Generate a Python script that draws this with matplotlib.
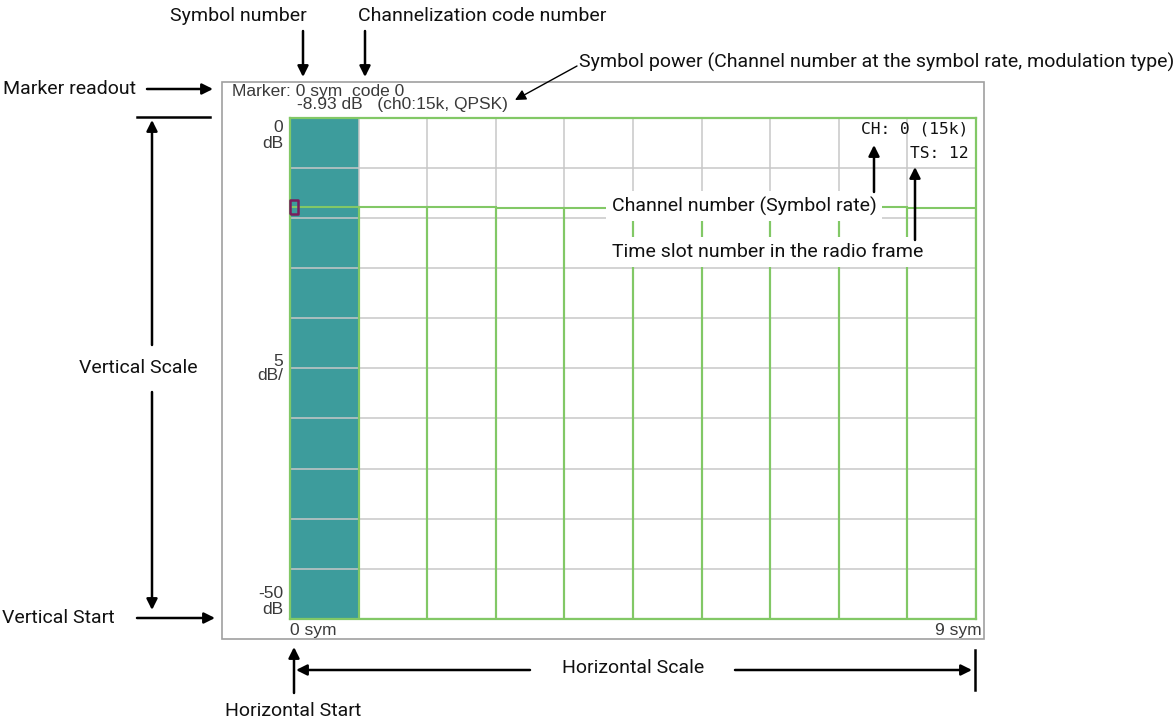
import matplotlib
matplotlib.use('Agg')
import matplotlib.pyplot as plt
from matplotlib.patches import Rectangle

# Messwerte (Symbol-Leistung je Symbol, dB)
symbols = [0, 1, 2, 3, 4, 5, 6, 7, 8, 9]
power_db = [-8.93, -8.93, -8.93, -9.05, -9.05, -9.0, -8.95, -9.0, -8.9, -9.05]
marker_sym = 0
marker_db = -8.93
y_start = -50
y_stop = 0
y_div = 5
x_ticks = list(range(11))

W, H = 1176, 723
GREEN = '#82c866'
GRID = '#c8c8c8'
TEAL = '#3d9c9c'
INSTR = '#3a3a3a'
ANN_FONT = ['Roboto', 'Liberation Sans', 'DejaVu Sans']
ANN_SIZE = 14
INSTR_FONT = ['Liberation Sans', 'DejaVu Sans']

fig = plt.figure(figsize=(W / 100, H / 100), dpi=100, facecolor='white')

# Plotbereich in Pixeln (links, oben, rechts, unten)
px_l, px_t, px_r, px_b = 290, 117.7, 976, 619
ax = fig.add_axes([px_l / W, 1 - px_b / H, (px_r - px_l) / W, (px_b - px_t) / H])
ax.set_xlim(0, 10)
ax.set_ylim(y_start, y_stop)
ax.set_xticks(x_ticks)
ax.set_yticks(list(range(y_start, y_stop + 1, y_div)))
ax.tick_params(length=0, labelbottom=False, labelleft=False)
ax.grid(True, color=GRID, linewidth=1.1)
for s in ax.spines.values():
    s.set_color(GREEN)
    s.set_linewidth(1.6)

# markiertes Symbol
ax.axvspan(marker_sym, marker_sym + 1, color=TEAL, zorder=1, lw=0)
ax.bar(symbols, [p - y_start for p in power_db], bottom=y_start, width=1, align='edge',
       fill=False, edgecolor=GREEN, linewidth=1.5, zorder=2)
box = [(0, -0.9), (1, -0.9), (1, 0.9), (0, 0.9), (0, -0.9)]
ax.plot([marker_sym], [marker_db], marker=box, markersize=11.5, mfc='none',
        mec='#7a1d5c', mew=1.8, clip_on=False, zorder=5)

# Overlay in Pixelkoordinaten für Beschriftungen
ov = fig.add_axes([0, 0, 1, 1], zorder=3)
ov.set_xlim(0, W)
ov.set_ylim(H, 0)
ov.axis('off')
ov.patch.set_visible(False)

ov.add_patch(Rectangle((222, 82), 762, 557, fill=False, edgecolor='#a0a0a0', lw=1.2))

# Texte des Messgeräts
def itext(x, y, s, ha='left', fam=INSTR_FONT, size=12.5):
    ov.text(x, y, s, ha=ha, va='center', fontsize=size, family=fam, color=INSTR)

itext(232, 91.5, 'Marker: 0 sym  code 0')
itext(297, 105, '-8.93 dB   (ch0:15k, QPSK)')
itext(283, 127, '0', ha='right')
itext(283, 143, 'dB', ha='right')
itext(283, 361, '5', ha='right')
itext(283, 376, 'dB/', ha='right')
itext(283, 593, '-50', ha='right')
itext(283, 609, 'dB', ha='right')
itext(290, 630, '0 sym')
itext(982, 630, '9 sym', ha='right')
ov.text(968, 129, 'CH: 0 (15k)', ha='right', va='center', fontsize=11.7,
        family='DejaVu Sans Mono', color='#111111')
ov.text(968, 153, 'TS: 12', ha='right', va='center', fontsize=11.7,
        family='DejaVu Sans Mono', color='#111111')

# Erklärungen
def atext(x, y, s, ha='left', bg=False):
    kw = {}
    if bg:
        kw['bbox'] = dict(facecolor='white', edgecolor='none', pad=4)
    ov.text(x, y, s, ha=ha, va='center', fontsize=ANN_SIZE, family=ANN_FONT,
            color='#111111', **kw)

def arrow(tail, tip, lw=1.8, ms=16):
    ov.annotate('', xy=tip, xytext=tail,
                arrowprops=dict(arrowstyle='-|>', color='black', lw=lw,
                                mutation_scale=ms, shrinkA=0, shrinkB=0))

atext(238, 16, 'Symbol number', ha='center')
atext(358, 16, 'Channelization code number')
arrow((303, 31), (303, 77))
arrow((365, 31), (365, 77))

atext(579, 62, 'Symbol power (Channel number at the symbol rate, modulation type)')
arrow((577, 66), (515, 100), lw=1.0, ms=16)

atext(3, 89, 'Marker readout')
arrow((147, 89), (213, 89))

ov.plot([137, 210], [117, 117], color='black', lw=1.8)
arrow((152, 345), (152, 120))
arrow((152, 392), (152, 610))
atext(138, 368, 'Vertical Scale', ha='center')

atext(2, 618, 'Vertical Start')
arrow((137, 618), (215, 618))

arrow((294, 693), (294, 647))
atext(293, 711, 'Horizontal Start', ha='center')

arrow((530, 670), (296, 670))
arrow((735, 670), (972, 670))
ov.plot([975, 975], [650, 690], color='black', lw=1.8)
atext(633, 668, 'Horizontal Scale', ha='center')

atext(612, 206, 'Channel number (Symbol rate)', bg=True)
atext(612, 252, 'Time slot number in the radio frame', bg=True)
arrow((874, 192), (874, 145))
arrow((915, 240), (915, 167))

fig.savefig('out.png', dpi=100, facecolor='white')
